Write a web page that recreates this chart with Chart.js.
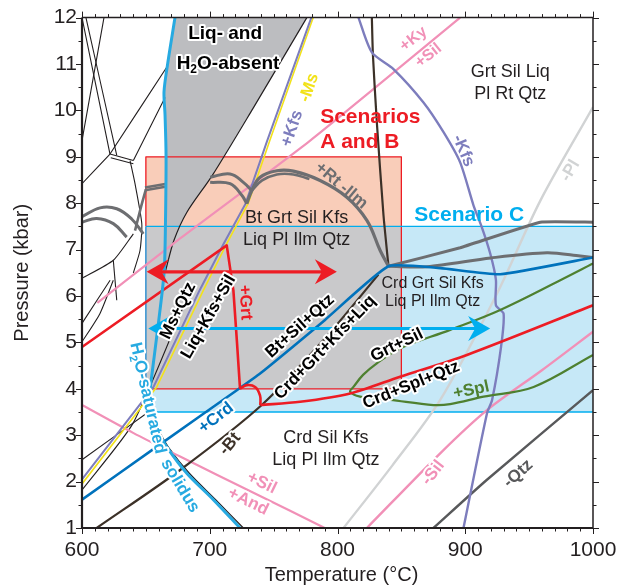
<!DOCTYPE html>
<html><head><meta charset="utf-8">
<script src="https://cdn.jsdelivr.net/npm/chart.js@4/dist/chart.umd.min.js"></script>
<style>html,body{margin:0;padding:0;background:#fff}#wrap{width:619px;height:588px}</style>
</head><body><div id="wrap"><canvas id="c" width="619" height="588"></canvas></div>
<script>
// ---------- axis ticks ----------
const temperatureTicks = [600, 700, 800, 900, 1000];
const pressureTicks = [1,2,3,4,5,6,7,8,9,10,11,12];

// ---------- scenario boxes (T °C, P kbar) ----------
const scenarioAB = [[650,4],[850,4],[850,9],[650,9],[650,4]];
const scenarioC = [[650,3.5],[1000,3.5],[1000,7.5],[650,7.5],[650,3.5]];
const scenarioOverlap = [[650,4],[850,4],[850,7.5],[650,7.5],[650,4]];
const scenarioABBorder = [[650,7.5],[650,9],[850,9],[850,4],[650,4]];
const scenarioCBorderTop = [[650,7.5],[1000,7.5]];
const scenarioCBorderBottom = [[650,3.5],[1000,3.5]];
const scenarioCBorderLeft = [[650,3.5],[650,7.5]];

// ---------- phase boundaries ----------
const liqAbsentRegion = [[664.5,6.6],[665.3,7.5],[665.8,9.0],[665,9.9],[664.2,10.4],[666.8,10.96],[672.8,12],[776,12],[734,10.05],[702,8.6],[682,7.8],[672,7.2],[665.5,6.55]];
const liqAbsentBoundary = [[665.5,6.55],[672,7.2],[682,7.8],[702,8.6],[734,10.05],[776,12]];
const h2oSolidus = [[672.8,12],[666.8,10.96],[664.2,10.4],[665,9.9],[665.8,9.0],[665.3,7.5],[664.5,6.6],[662.4,6.0],[657,4.8],[652.5,3.8],[652,3.55],[654,3.3],[658.5,3.11],[666.3,2.75],[682,2.18],[702.8,1.61],[723.7,1.0]];
const solidusBlack = [[655.5,3.35],[660.5,3.08],[668,2.73],[684,2.18],[705,1.6],[726.3,1.0]];
const msOut = [[600,1.95],[658.5,4.04],[695,6.12],[713.3,7.13],[730,7.99],[747,9.35],[781,12]];
const kfsIn = [[600,2.05],[656,4.04],[692,6.12],[711,7.13],[728,7.99],[745,9.35],[779.5,12]];
const crdIn = [[600,1.61],[660,2.78],[721.2,3.97],[739.4,4.33],[790,5.48],[839.9,6.64],[880.4,6.6],[927.4,6.47],[1000,6.83]];
const btOut = [[611.5,1.0],[676.8,2.25],[740.7,3.65],[790,5.08],[832,6.46]];
const kfsDark = [[826.9,12],[827.7,11.21],[830.8,9.74],[836,7.74],[839.9,6.64]];
const rtIlm = [[729,7.99],[732.9,8.27],[739.4,8.56],[752.5,8.70],[765.5,8.69],[786.4,8.49],[807.3,8.13],[823,7.63],[833.4,6.98],[839.9,6.64]];
const rtIlm2 = [[732.9,8.27],[741,8.49],[752.5,8.62],[765.5,8.62],[778,8.52]];
const grayArc1 = [[700.3,8.56],[715.9,8.63],[726.3,8.45],[732.9,8.27]];
const grayArc2 = [[700.3,8.45],[715.9,8.42],[725.1,8.17],[729,7.99]];
const grayUpperRight = [[839.9,6.64],[896,7.04],[958.7,7.59],[1000,7.59]];
const grayLowerRight = [[839.9,6.64],[870,6.63],[920,6.82],[964,6.93],[990,6.86],[1000,6.83]];
const grayLeft1 = [[649.3,8.34],[666.3,8.42]];
const grayLeft1b = [[649.3,8.28],[666.3,8.36]];
const grayLeft2 = [[650,8.3],[646,7.9],[641.5,7.41]];
const grayLeftArcA = [[600,7.71],[614.1,7.9],[627.2,7.88],[638.9,7.66],[648,7.34]];
const grayLeftArcB = [[600,7.59],[611.5,7.67],[624.5,7.56],[635,7.27]];
const grtInPeak = [[600,4.9],[713.3,7.09],[718.5,6.12],[721.2,5.05],[723.7,4.0]];
const grtBump = [[723.7,4.0],[729,4.08],[735.5,4.04],[739.4,3.85],[739.6,3.65]];
const crdSplQtz = [[739.6,3.65],[770.7,3.72],[809.9,3.9],[849,4.26],[901.3,4.73],[1000,5.8]];
const splLoop = [[1000,6.7],[974.4,6.34],[927.4,5.7],[888.2,5.27],[849,4.87],[830.8,4.55],[820,4.3],[812.5,4.04],[809.9,3.94],[817.7,3.83],[841.2,3.76],[875.1,3.65],[888.2,3.67],[914.3,3.83],[953.5,4.04],[1000,4.73]];
const kySil = [[612,5.85],[676.8,7.24],[778.6,9.35],[896,12]];
const silAnd = [[600,3.65],[640,3.05],[676.8,2.54],[735,1.75],[790,1.0]];
const silOut = [[823,1.0],[880.4,2.61],[917,3.54],[960,4.4],[1000,5.23]];
const plOut = [[804.7,1.0],[843,2.35],[880.4,3.76],[924.8,6.05],[958.7,8.05],[1000,10.07]];
const qtzOut = [[875.1,1.0],[917,2.04],[1000,3.97]];
const kfsOut = [[816.4,12],[826.9,11.25],[843.8,10.89],[867.3,10.17],[883,9.53],[896,8.88],[906.5,7.95],[913,7.48],[919.6,6.91],[924,6.35],[924,5.8],[930,5.62],[928,4.9],[921,3.76],[917,3.47],[898.6,1.0]];
// thin black network (H2O-present, low T)
const thinLines = [
  [[600,12],[621.9,9.06]],
  [[603.1,12],[627.2,9.03]],
  [[617.2,12],[600,9.35]],
  [[666.3,10.93],[621.9,9.06]],
  [[665,10.28],[640.2,8.92]],
  [[621.9,9.06],[640.2,8.92]],
  [[622.5,8.98],[640.2,8.85]],
  [[600,8.42],[621.9,9.06]],
  [[637.6,8.92],[641.5,8.42],[646.8,7.56],[645.4,6.98],[640.2,6.5]],
  [[600,6.38],[624.5,6.77],[640.2,7.34]],
  [[624.5,6.77],[627.2,5.91]],
  [[600,5.41],[622,6.34]],
  [[600,5.01],[614,5.62],[624.5,6.34]],
  [[600,1.82],[640,3.26],[684.6,6.12]],
  [[600,2.47],[652,3.5]]
];

// ---------- scenario arrows ----------
const arrowAB = [[650.6,6.52],[799.5,6.52]];
const arrowC = [[651.9,5.3],[919.5,5.3]];

// ---------- labels ----------
const labelItems = [
  {t:'Liq- and', at:[712,11.65], r:0, s:19, w:'bold', c:'#000', h:true},
  {t:'H_2O-absent', at:[714.3,11.0], r:0, s:19, w:'bold', c:'#000', h:true},
  {t:'+Kfs', at:[764.5,9.61], r:-71, s:17, w:'bold', c:'#7d7dbd', h:false},
  {t:'-Ms', at:[777.8,10.49], r:-71, s:17, w:'bold', c:'#f2e21a', h:false},
  {t:'Scenarios', at:[786.4,9.85], r:0, s:21, w:'bold', c:'#ed1c24', h:false, al:'left'},
  {t:'A and B', at:[786.4,9.31], r:0, s:21, w:'bold', c:'#ed1c24', h:false, al:'left'},
  {t:'+Ky', at:[859.5,11.54], r:-38.6, s:16, w:'bold', c:'#f190b7', h:false},
  {t:'+Sil', at:[871.2,11.18], r:-38.6, s:16, w:'bold', c:'#f190b7', h:false},
  {t:'Grt Sil Liq', at:[935.2,10.82], r:0, s:18, w:'normal', c:'#231f20', h:false},
  {t:'Pl Rt Qtz', at:[935.2,10.35], r:0, s:18, w:'normal', c:'#231f20', h:false},
  {t:'-Kfs', at:[898.4,9.13], r:67, s:17, w:'bold', c:'#7d7dbd', h:false},
  {t:'-Pl', at:[982.2,8.70], r:-59, s:17, w:'bold', c:'#d1d3d4', h:false},
  {t:'+Rt -Ilm', at:[802.9,8.38], r:40, s:17, w:'bold', c:'#6d6e71', h:false},
  {t:'Bt Grt Sil Kfs', at:[768,7.69], r:0, s:18, w:'normal', c:'#231f20', h:false},
  {t:'Liq Pl Ilm Qtz', at:[768,7.20], r:0, s:18, w:'normal', c:'#231f20', h:false},
  {t:'Scenario C', at:[903.1,7.74], r:0, s:21, w:'bold', c:'#00aeef', h:false},
  {t:'Crd Grt Sil Kfs', at:[874.5,6.27], r:0, s:16, w:'normal', c:'#231f20', h:false},
  {t:'Liq Pl Ilm Qtz', at:[874.5,5.87], r:0, s:16, w:'normal', c:'#231f20', h:false},
  {t:'Ms+Qtz', at:[675.2,5.68], r:-64, s:17, w:'bold', c:'#000', h:true},
  {t:'Liq+Kfs+Sil', at:[699.1,5.55], r:-60.4, s:17, w:'bold', c:'#000', h:true},
  {t:'+Grt', at:[727.7,5.86], r:86, s:17, w:'bold', c:'#ed1c24', h:false},
  {t:'Bt+Sil+Qtz', at:[770.7,5.35], r:-42, s:17, w:'bold', c:'#000', h:true},
  {t:'Crd+Grt+Kfs+Liq', at:[790.3,4.89], r:-46, s:17, w:'bold', c:'#000', h:true},
  {t:'Grt+Sil', at:[846.5,4.94], r:-26, s:17, w:'bold', c:'#000', h:true},
  {t:'Crd+Spl+Qtz', at:[857.7,4.08], r:-22, s:17, w:'bold', c:'#000', h:true},
  {t:'+Spl', at:[904.7,3.97], r:-12, s:17, w:'bold', c:'#4e8030', h:false},
  {t:'H_2O-saturated', at:[651.3,3.8], r:77, s:17, w:'bold', c:'#27aae1', h:true},
  {t:'solidus', at:[676.8,1.91], r:59, s:17, w:'bold', c:'#27aae1', h:true},
  {t:'+Crd', at:[704.9,3.37], r:-38, s:17, w:'bold', c:'#0072bc', h:true},
  {t:'-Bt', at:[715.9,2.81], r:-50, s:17, w:'bold', c:'#3c3128', h:true},
  {t:'Crd Sil Kfs', at:[790.9,2.94], r:0, s:18, w:'normal', c:'#231f20', h:false},
  {t:'Liq Pl Ilm Qtz', at:[790.9,2.47], r:0, s:18, w:'normal', c:'#231f20', h:false},
  {t:'+Sil', at:[740.7,1.97], r:26, s:17, w:'bold', c:'#f190b7', h:true},
  {t:'+And', at:[730,1.57], r:26, s:17, w:'bold', c:'#f190b7', h:true},
  {t:'-Sil', at:[874.9,2.19], r:-52, s:17, w:'bold', c:'#f190b7', h:true},
  {t:'-Qtz', at:[941.5,2.17], r:-42, s:17, w:'bold', c:'#58595b', h:true}
];

const FAM = '"Liberation Sans", Arial, Helvetica, sans-serif';
const toXY = a => a.map(([x, y]) => ({x, y}));
const datasets = [];
function addFill(pts, color) {
  datasets.push({data: toXY(pts), showLine: true, fill: 'shape', backgroundColor: color,
    borderWidth: 0, borderColor: 'rgba(0,0,0,0)', pointRadius: 0, tension: 0});
}
function addLine(pts, color, width, tension) {
  datasets.push({data: toXY(pts), showLine: true, fill: false, borderColor: color,
    borderWidth: width, pointRadius: 0, tension: tension || 0,
    borderCapStyle: 'butt', borderJoinStyle: 'round'});
}
addFill(scenarioAB, '#f9cdb9');
addFill(scenarioC, '#c6e8f7');
addFill(scenarioOverlap, '#c9c9cb');
addFill(liqAbsentRegion, '#bcbdc0');
addLine(scenarioABBorder, '#ed1c24', 1.3);
addLine(scenarioCBorderTop, '#00aeef', 1.3);
addLine(scenarioCBorderBottom, '#00aeef', 1.3);
addLine(scenarioCBorderLeft, '#3d97d3', 1.6);
thinLines.forEach(l => addLine(l, '#231f20', 1.1, 0.2));
addLine(liqAbsentBoundary, '#231f20', 1.2, 0.3);
addLine(solidusBlack, '#231f20', 1.2, 0.3);
addLine(grayLeft1, '#6d6e71', 2.6);
addLine(grayLeft1b, '#6d6e71', 2.6);
addLine(grayLeft2, '#6d6e71', 2.6, 0.3);
addLine(grayLeftArcA, '#6d6e71', 3, 0.4);
addLine(grayLeftArcB, '#6d6e71', 3, 0.4);
addLine(silAnd, '#f190b7', 2.2, 0.3);
addLine(kySil, '#f190b7', 2.2, 0.2);
addLine(silOut, '#f190b7', 2.4, 0.3);
addLine(plOut, '#d1d3d4', 2.4, 0.3);
addLine(qtzOut, '#58595b', 2.4, 0.2);
addLine(kfsDark, '#3c3128', 2.2, 0.2);
addLine(btOut, '#3c3128', 2.2, 0.3);
addLine(msOut, '#f2e21a', 1.6, 0);
addLine(kfsIn, '#7d7dbd', 2, 0);
addLine(kfsOut, '#7d7dbd', 2.4, 0.25);
addLine(splLoop, '#4e8030', 2.2, 0.35);
addLine(grayArc1, '#6d6e71', 3, 0.4);
addLine(grayArc2, '#6d6e71', 3, 0.4);
addLine(rtIlm2, '#6d6e71', 2.6, 0.4);
addLine(rtIlm, '#6d6e71', 3.2, 0.4);
addLine(grayUpperRight, '#6d6e71', 3, 0.1);
addLine(grayLowerRight, '#6d6e71', 3, 0.3);
addLine(crdIn, '#0072bc', 2.6, 0.15);
addLine(grtInPeak, '#ed1c24', 2.6, 0);
addLine(grtBump, '#ed1c24', 2.6, 0.45);
addLine(crdSplQtz, '#ed1c24', 2.6, 0.3);
addLine(h2oSolidus, '#27aae1', 3, 0.3);
addLine([[arrowAB[0][0] + 10, arrowAB[0][1]], [arrowAB[1][0] - 10, arrowAB[1][1]]], '#ed1c24', 3.2);
addLine([[arrowC[0][0] + 10, arrowC[0][1]], [arrowC[1][0] - 10, arrowC[1][1]]], '#00aeef', 3.2);
// later datasets are drawn on top
datasets.forEach((d, i) => { d.order = 1000 - i; });

function splitSub(t) {
  const out = [];
  const re = /_(\d)/g; let last = 0, m;
  while ((m = re.exec(t))) {
    if (m.index > last) out.push({t: t.slice(last, m.index), sub: false});
    out.push({t: m[1], sub: true}); last = re.lastIndex;
  }
  if (last < t.length) out.push({t: t.slice(last), sub: false});
  return out;
}
function drawLabel(ctx, L, x, y) {
  const segs = splitSub(L.t);
  ctx.save();
  ctx.translate(x, y);
  ctx.rotate(L.r * Math.PI / 180);
  ctx.textBaseline = 'middle'; ctx.textAlign = 'left';
  const fnt = sub => `${L.w} ${sub ? Math.round(L.s * 0.62) : L.s}px ${FAM}`;
  const ws = segs.map(s => { ctx.font = fnt(s.sub); return ctx.measureText(s.t).width; });
  const total = ws.reduce((a, b) => a + b, 0);
  const x0 = L.al === 'left' ? 0 : -total / 2;
  const passes = L.h ? ['halo', 'fill'] : ['fill'];
  passes.forEach(p => {
    let cx = x0;
    segs.forEach((s, i) => {
      ctx.font = fnt(s.sub);
      const dy = s.sub ? L.s * 0.32 : 0;
      if (p === 'halo') {
        ctx.strokeStyle = '#fff'; ctx.lineWidth = 4; ctx.lineJoin = 'round';
        ctx.strokeText(s.t, cx, dy);
      } else { ctx.fillStyle = L.c; ctx.fillText(s.t, cx, dy); }
      cx += ws[i];
    });
  });
  ctx.restore();
}
function arrowHead(ctx, tx, ty, dir, color) {
  const L = 22, H = 12.5, N = 7;
  ctx.save(); ctx.fillStyle = color; ctx.beginPath();
  ctx.moveTo(tx, ty);
  ctx.lineTo(tx - dir * L, ty - H);
  ctx.lineTo(tx - dir * (L - N), ty);
  ctx.lineTo(tx - dir * L, ty + H);
  ctx.closePath(); ctx.fill(); ctx.restore();
}

const overlay = {
  id: 'overlay',
  afterDatasetsDraw(chart) {
    const {ctx, scales: {x, y}} = chart;
    [[arrowAB, '#ed1c24'], [arrowC, '#00aeef']].forEach(([a, col]) => {
      arrowHead(ctx, x.getPixelForValue(a[0][0]), y.getPixelForValue(a[0][1]), -1, col);
      arrowHead(ctx, x.getPixelForValue(a[1][0]), y.getPixelForValue(a[1][1]), 1, col);
    });
  },
  afterDraw(chart) {
    const {ctx, chartArea: A, scales: {x, y}} = chart;
    labelItems.forEach(L => drawLabel(ctx, L, x.getPixelForValue(L.at[0]), y.getPixelForValue(L.at[1])));
    ctx.save();
    ctx.strokeStyle = '#231f20';
    // ticks
    ctx.lineWidth = 1;
    ctx.beginPath();
    for (let t = 600; t <= 1000; t += 10) {
      const px = Math.round(x.getPixelForValue(t)) + 0.5;
      const len = t % 100 === 0 ? 6 : 3.5;
      ctx.moveTo(px, A.bottom); ctx.lineTo(px, A.bottom + len);
      ctx.moveTo(px, A.top); ctx.lineTo(px, A.top - len);
    }
    for (let p = 1; p <= 12.001; p += 0.5) {
      const py = Math.round(y.getPixelForValue(p)) + 0.5;
      const len = Math.abs(p - Math.round(p)) < 0.01 ? 6 : 3.5;
      ctx.moveTo(A.left, py); ctx.lineTo(A.left - len, py);
      ctx.moveTo(A.right, py); ctx.lineTo(A.right + len, py);
    }
    ctx.stroke();
    // frame
    ctx.lineWidth = 2.2;
    ctx.beginPath();
    ctx.moveTo(A.left, A.top); ctx.lineTo(A.left, A.bottom); ctx.lineTo(A.right, A.bottom);
    ctx.stroke();
    ctx.lineWidth = 1.5;
    ctx.beginPath();
    ctx.moveTo(A.left, A.top); ctx.lineTo(A.right, A.top); ctx.lineTo(A.right, A.bottom);
    ctx.stroke();
    // axis titles
    ctx.fillStyle = '#231f20';
    ctx.font = `20px ${FAM}`;
    ctx.textAlign = 'center'; ctx.textBaseline = 'middle';
    ctx.fillText('Temperature (°C)', (A.left + A.right) / 2 + 4, 575);
    ctx.translate(22, (A.top + A.bottom) / 2);
    ctx.rotate(-Math.PI / 2);
    ctx.fillText('Pressure (kbar)', 0, 0);
    ctx.restore();
  }
};

new Chart(document.getElementById('c'), {
  type: 'scatter',
  data: {datasets},
  options: {
    responsive: false, animation: false, devicePixelRatio: 1, events: [],
    layout: {padding: {left: 0, right: 26, top: 17, bottom: 0}},
    plugins: {legend: {display: false}, tooltip: {enabled: false}, filler: {drawTime: 'beforeDatasetsDraw'}},
    scales: {
      x: {type: 'linear', min: 600, max: 1000,
        afterBuildTicks: s => { s.ticks = temperatureTicks.map(v => ({value: v})); },
        afterFit: s => { s.height = 60; },
        grid: {display: false, drawTicks: true, tickLength: 8}, border: {display: false},
        ticks: {font: {family: FAM, size: 21}, color: '#231f20', padding: 2, maxRotation: 0,
          callback: v => String(v)}},
      y: {type: 'linear', min: 1, max: 12,
        afterBuildTicks: s => { s.ticks = pressureTicks.map(v => ({value: v})); },
        afterFit: s => { s.width = 82; },
        grid: {display: false, drawTicks: false}, border: {display: false},
        ticks: {font: {family: FAM, size: 21}, color: '#231f20', padding: 5, callback: v => String(v)}}
    }
  },
  plugins: [overlay]
});
</script></body></html>
